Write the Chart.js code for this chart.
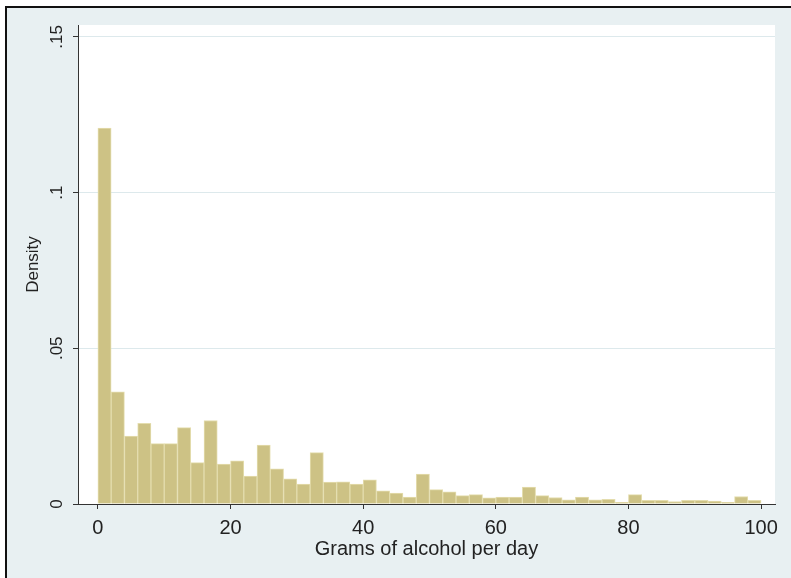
<!DOCTYPE html>
<html>
<head>
<meta charset="utf-8">
<script src="https://cdn.jsdelivr.net/npm/chart.js@4/dist/chart.umd.min.js"></script>
<style>
  html, body { margin: 0; padding: 0; background: #ffffff; }
  #wrap { width: 791px; height: 578px; position: relative; }
</style>
</head>
<body>
<div id="wrap"><canvas id="c" width="791" height="578"></canvas></div>
<script>
// Histogram of grams of alcohol per day (bin width 2)
const binMidpoints = [1, 3, 5, 7, 9, 11, 13, 15, 17, 19,
  21, 23, 25, 27, 29, 31, 33, 35, 37, 39,
  41, 43, 45, 47, 49, 51, 53, 55, 57, 59,
  61, 63, 65, 67, 69, 71, 73, 75, 77, 79,
  81, 83, 85, 87, 89, 91, 93, 95, 97, 99];
const density = [0.1207, 0.0360, 0.0218, 0.0259, 0.0194, 0.0194, 0.0245, 0.0133, 0.0268, 0.0128,
  0.0139, 0.0090, 0.0189, 0.0113, 0.0081, 0.0064, 0.0165, 0.0070, 0.0071, 0.0064,
  0.0078, 0.0042, 0.0035, 0.0022, 0.0096, 0.0046, 0.0039, 0.0027, 0.0030, 0.0020,
  0.0022, 0.0022, 0.0054, 0.0027, 0.0021, 0.0013, 0.0022, 0.0013, 0.0015, 0.0005,
  0.0030, 0.0012, 0.0012, 0.0008, 0.0012, 0.0012, 0.0009, 0.0005, 0.0024, 0.0012];
const xTickValues = [0, 20, 40, 60, 80, 100];
const yTickValues = [0, 0.05, 0.1, 0.15];

const FONT = '"Liberation Sans", Arial, Helvetica, sans-serif';
const INK = '#222222';

// Graph region: light bluish fill with a dark frame, white plot region
const backdrop = {
  id: 'backdrop',
  beforeDraw(chart) {
    const { ctx, width, height, chartArea: a } = chart;
    ctx.save();
    ctx.fillStyle = '#ffffff';
    ctx.fillRect(0, 0, width, height);
    ctx.fillStyle = '#E8F0F2';
    ctx.fillRect(7, 8, width - 7, height - 8);
    ctx.fillStyle = '#111111';
    ctx.fillRect(5, 6, width - 5, 2);
    ctx.fillRect(5, 6, 2, height - 6);
    ctx.fillStyle = '#ffffff';
    ctx.fillRect(a.left, a.top, a.right - a.left, a.bottom - a.top);
    ctx.restore();
  }
};

new Chart(document.getElementById('c'), {
  type: 'bar',
  data: {
    datasets: [{
      data: binMidpoints.map((x, i) => ({ x: x, y: density[i] })),
      backgroundColor: '#CDC285',
      borderColor: '#E4DDAE',
      borderWidth: 1,
      barPercentage: 1,
      categoryPercentage: 1
    }]
  },
  options: {
    responsive: false,
    animation: false,
    layout: { padding: { left: 0, right: 16, top: 25, bottom: 0 } },
    plugins: { legend: { display: false }, tooltip: { enabled: false } },
    scales: {
      x: {
        type: 'linear',
        min: -3.0,
        max: 102.1,
        offset: false,
        afterBuildTicks(scale) { scale.ticks = xTickValues.map(v => ({ value: v })); },
        afterFit(scale) { scale.height = 74; },
        grid: { display: true, drawOnChartArea: false, drawTicks: true, tickLength: 5, tickColor: '#333333', offset: false },
        border: { display: true, color: '#333333', width: 1 },
        ticks: { color: INK, font: { family: FONT, size: 20 }, padding: 7, maxRotation: 0, autoSkip: false },
        title: { display: true, text: 'Grams of alcohol per day', color: INK, font: { family: FONT, size: 20 }, padding: { top: 0, bottom: 17 } }
      },
      y: {
        type: 'linear',
        min: 0,
        max: 0.1538,
        afterBuildTicks(scale) { scale.ticks = yTickValues.map(v => ({ value: v })); },
        afterFit(scale) { scale.width = 78; },
        grid: {
          color: ctx => ctx.tick && ctx.tick.value === 0 ? 'rgba(0,0,0,0)' : '#DDE9EC',
          tickColor: '#333333',
          tickLength: 5,
          lineWidth: 1
        },
        border: { display: true, color: '#333333', width: 1 },
        ticks: {
          color: INK,
          font: { family: FONT, size: 17 },
          minRotation: 90,
          maxRotation: 90,
          crossAlign: 'center',
          padding: 4,
          autoSkip: false,
          callback: v => (v === 0 ? '0' : String(v).replace(/^0/, ''))
        },
        title: { display: true, text: 'Density', color: INK, font: { family: FONT, size: 17 }, padding: { top: 23, bottom: 0 } }
      }
    }
  },
  plugins: [backdrop]
});
</script>
</body>
</html>
